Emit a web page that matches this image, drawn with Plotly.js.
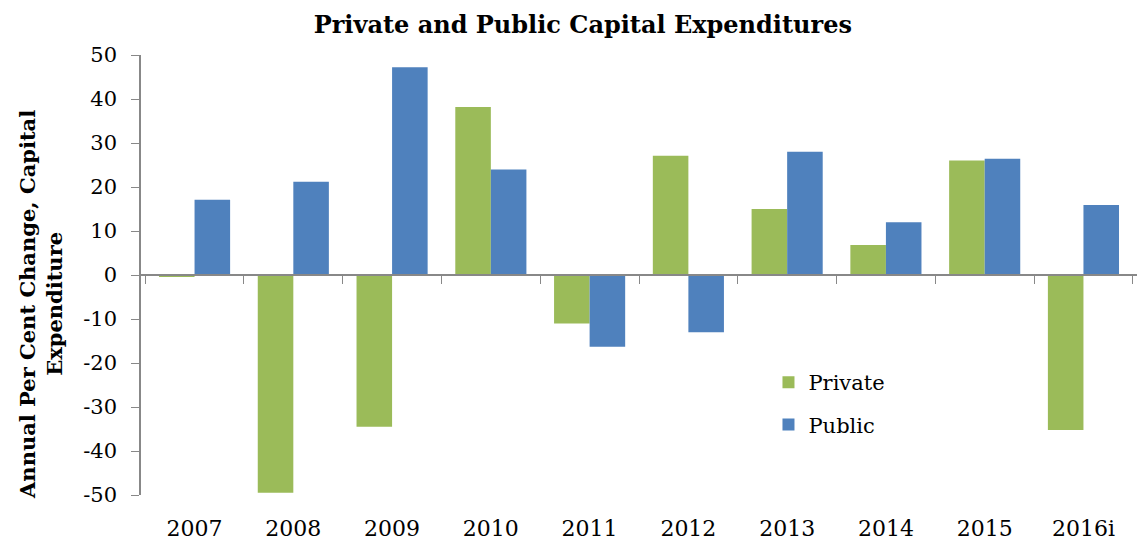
<!DOCTYPE html>
<html><head><meta charset="utf-8">
<script src="https://cdn.plot.ly/plotly-3.0.1.min.js"></script>
<style>body{margin:0;background:#fff}#c{width:1145px;height:544px}</style>
</head><body><div id="c"></div>
<script>
const years = ["2007","2008","2009","2010","2011","2012","2013","2014","2015","2016i"];
const privateVals = [-0.3, -49.5, -34.5, 38.2, -11.0, 27.1, 15.0, 6.8, 26.0, -35.2];
const publicVals = [17.1, 21.2, 47.2, 24.0, -16.3, -13.0, 28.0, 12.0, 26.4, 15.9];
const yTickVals = [-50,-40,-30,-20,-10,0,10,20,30,40,50];
const yTickText = ["-50","-40","-30","-20","-10","0","10","20","30","40","50"];
const F = "DejaVu Serif, Liberation Serif, serif";
const traces = [
  {type:"bar", name:"Private", legendgroup:"a", x:years, y:privateVals, marker:{color:"#9BBB59"}},
  {type:"bar", name:"Public", legendgroup:"b", x:years, y:publicVals, marker:{color:"#4F81BD"}},
  {type:"scatter", x:years, y:years.map(()=>null), xaxis:"x2", showlegend:false, hoverinfo:"skip"}
];
const layout = {
  width:1145, height:544,
  margin:{l:141, r:8, t:55, b:49},
  paper_bgcolor:"#fff", plot_bgcolor:"#fff",
  font:{family:F, size:21, color:"#000"},
  title:{text:"<b>Private and Public Capital Expenditures</b>", x:0.509, xanchor:"center", xref:"container", y:0.955, yanchor:"middle", font:{family:F, size:24}},
  barmode:"group", bargap:0.28, bargroupgap:0,
  xaxis:{type:"category", showline:false, ticks:"outside", ticklen:14, tickcolor:"rgba(0,0,0,0)", showgrid:false, zeroline:false, tickfont:{family:F, size:22}},
  xaxis2:{type:"category", overlaying:"x", anchor:"free", position:0.5, showline:true, linecolor:"#888", linewidth:1.5,
    ticks:"outside", ticklen:8, tickcolor:"#888", tickson:"boundaries", showticklabels:false, showgrid:false, zeroline:false, matches:"x"},
  yaxis:{range:[-50,50], tickmode:"array", tickvals:yTickVals, ticktext:yTickText, showline:true, linecolor:"#888", linewidth:1.5, ticks:"outside", ticklen:8, tickcolor:"#888",
    ticklabelstandoff:10, showgrid:false, zeroline:false, tickfont:{family:F, size:21}},
  annotations:[{text:"<b>Annual Per Cent Change, Capital<br>Expenditure</b>", textangle:-90, xref:"paper", yref:"paper",
    x:0, y:0.432, xanchor:"center", yanchor:"middle", xshift:-100, showarrow:false, font:{family:F, size:21}}],
  legend:{x:0.63, y:0.302, xanchor:"left", yanchor:"top", font:{family:F, size:21}, tracegroupgap:12, itemwidth:30, bgcolor:"rgba(0,0,0,0)"}
};
Plotly.newPlot("c", traces, layout, {displayModeBar:false});
</script></body></html>
